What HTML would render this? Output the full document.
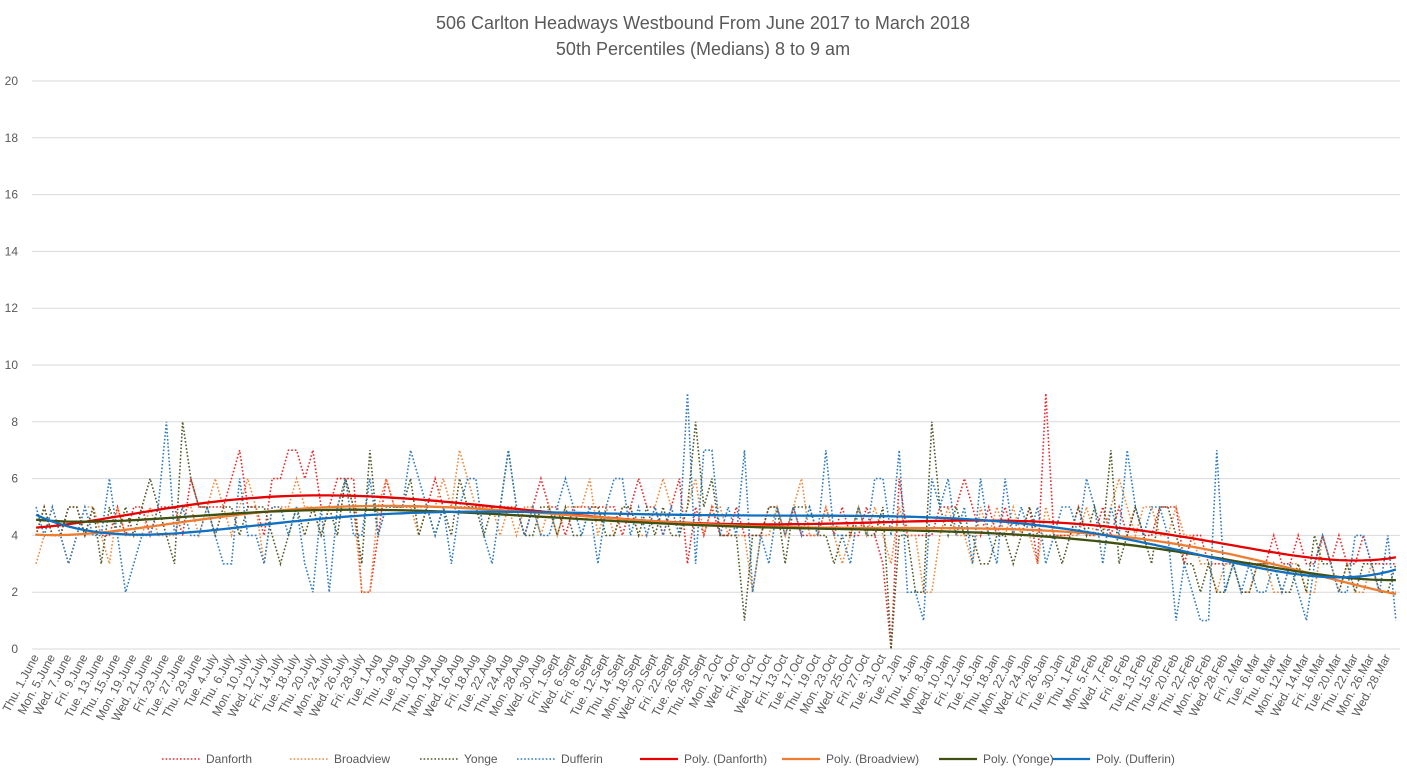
<!DOCTYPE html>
<html><head><meta charset="utf-8">
<style>
body{margin:0;background:#fff;font-family:"Liberation Sans",sans-serif;}
#wrap{position:relative;width:1407px;height:778px;overflow:hidden;}
</style></head>
<body>
<div id="wrap">
<svg id="chart" width="1407" height="778">
<text x="703" y="29" text-anchor="middle" font-size="18" fill="#595959">506 Carlton Headways Westbound From June 2017 to March 2018</text>
<text x="703" y="55" text-anchor="middle" font-size="18" fill="#595959">50th Percentiles (Medians) 8 to 9 am</text>
<g id="grid"></g><g id="yticks"></g><g id="xticks"></g><g id="series"></g><g id="trends"></g><g id="legend"></g>
</svg>
</div>
<script>
const months = {June:[2017,5],July:[2017,6],Aug:[2017,7],Sept:[2017,8],Oct:[2017,9],Nov:[2017,10],Jan:[2018,0],Feb:[2018,1],Mar:[2018,2]};
const categoryRanges = [["June",1,30],["July",1,31],["Aug",1,31],["Sept",1,30],["Oct",1,31],["Nov",1,1],["Jan",2,31],["Feb",1,28],["Mar",1,29]];
const holidays = ["July.3","Aug.7","Sept.4","Oct.9","Feb.19"];
const yTicks = [0,2,4,6,8,10,12,14,16,18,20];
const danforth = [4,5,4,4,5,5,4,5,4,4,5,4,5,5,4,5,5,5,4,6,5,
5,5,5,6,7,5,5,4,6,6,7,7,6,7,5,5,6,6,6,2,2,
4,6,5,5,5,5,5,6,5,5,5,5,5,5,5,5,5,5,4,5,6,
5,5,4,5,5,5,5,5,5,4,5,6,5,5,4,5,6,3,5,4,5,
4,4,5,4,4,4,5,5,4,5,4,4,4,5,4,5,4,4,5,4,3,
0,6,4,4,4,4,5,5,5,6,5,4,5,4,5,4,4,5,3,9,4,
4,4,5,4,4,5,4,5,4,5,4,4,5,5,5,3,4,4,3,3,3,
3,3,3,3,3,4,3,3,4,3,3,4,3,4,3,3,4,3,3,3,3];
const broadview = [3,4,5,4,3,4,5,5,4,3,5,4,4,4,5,4,4,4,5,5,4,
5,6,5,4,5,6,5,3,5,5,5,6,5,5,4,5,5,6,5,2,2,
5,6,5,5,5,4,5,5,6,5,7,6,5,5,5,4,5,4,5,5,4,
5,4,5,5,5,6,4,5,4,5,5,4,4,5,6,5,4,5,6,4,5,
5,4,4,4,2,4,4,5,4,5,6,4,4,5,4,3,4,5,4,5,4,
3,5,4,4,2,2,4,5,4,4,3,5,4,5,4,5,4,4,3,5,4,
4,4,4,5,4,4,5,6,5,4,5,5,4,4,5,4,4,3,3,2,3,
3,2,2,3,3,2,2,3,3,2,2,4,3,2,3,2,2,3,2,2,2];
const yonge = [4,5,4,4,5,5,4,5,3,5,4,5,4,5,6,5,4,3,8,6,5,
5,4,5,5,4,5,5,5,4,3,4,5,4,5,4,5,4,6,5,3,7,
4,5,5,5,6,4,5,4,5,4,6,5,5,4,5,5,7,5,4,4,5,
5,4,5,4,4,5,5,4,4,5,5,4,5,4,5,4,4,5,8,5,6,
4,4,4,1,4,4,5,5,3,5,5,5,4,4,3,4,4,5,4,4,5,
0,4,4,2,2,8,5,4,5,4,4,3,3,4,4,3,4,5,4,4,4,
3,4,5,4,5,4,7,3,4,5,4,3,5,5,4,3,3,2,3,2,2,
3,2,2,3,3,3,2,2,3,2,4,3,3,2,3,2,3,3,2,2,3];
const dufferin = [5,4,5,4,3,4,5,4,4,6,4,2,3,4,4,5,8,4,5,4,4,
5,4,3,3,6,4,4,3,5,5,4,5,3,2,5,2,5,6,4,4,6,
4,5,5,5,7,6,5,4,5,3,5,6,6,4,3,5,7,5,4,5,4,
4,5,6,5,4,5,3,5,6,6,4,5,4,5,4,5,4,9,3,7,7,
4,5,4,7,2,4,3,5,4,5,4,5,4,7,4,4,3,5,4,6,6,
4,7,2,2,1,6,5,6,4,5,3,6,4,3,6,4,5,4,5,3,4,
5,5,4,6,5,3,5,4,7,5,4,5,5,4,1,3,2,1,1,7,2,
3,2,3,2,2,3,2,3,2,1,3,4,3,2,2,4,4,3,2,4,1];
const seriesNames = ["Danforth","Broadview","Yonge","Dufferin"];
const seriesColors = ["#e8292b","#ee8a3c","#4c5a26","#2d7bbf"];
const trendColors = ["#e60000","#ed7d31","#3f5010","#1170c0"];

const dayNames=["Sun","Mon","Tue","Wed","Thu","Fri","Sat"];
const categories=[];
categoryRanges.forEach(([m,a,b])=>{for(let d=a;d<=b;d++){const dt=new Date(months[m][0],months[m][1],d);const w=dt.getDay();if(w===0||w===6)continue;if(holidays.includes(m+"."+d))continue;categories.push(dayNames[w]+". "+d+"."+m);}});

const NS="http://www.w3.org/2000/svg";
const L=32,R=1400,T=81,B=649;
const n=danforth.length;
const cw=(R-L)/n;
const xS=i=>L+(i+0.5)*cw;
const yS=v=>B-(v/20)*(B-T);
function mk(tag,attrs,parent){const e=document.createElementNS(NS,tag);for(const k in attrs)e.setAttribute(k,attrs[k]);parent.appendChild(e);return e;}

const grid=document.getElementById('grid'),yt=document.getElementById('yticks');
yTicks.forEach(v=>{
  const l=mk('line',{x1:L,x2:R,y1:yS(v),y2:yS(v),stroke:'#d9d9d9','stroke-width':1},grid);
  
  
  const t=mk('text',{x:18,y:yS(v)+4,'text-anchor':'end','font-size':12,fill:'#595959'},yt);
  t.textContent=v;
  
  
});
const xt=document.getElementById('xticks');
categories.forEach((c,i)=>{
  if(i%2!==0)return;
  const x=xS(i)+3,y=657;
  const t=mk('text',{x:x,y:y,'text-anchor':'end','font-size':12,fill:'#595959',transform:`rotate(-62 ${x} ${y})`},xt);
  t.textContent=c;
  
  
});
const all=[danforth,broadview,yonge,dufferin];
const sg=document.getElementById('series');
all.forEach((arr,s)=>{
  const d=arr.map((v,i)=>(i?'L':'M')+xS(i).toFixed(1)+' '+yS(v).toFixed(1)).join(' ');
  const p=mk('path',{d:d,fill:'none',stroke:seriesColors[s],'stroke-width':1.6,'stroke-dasharray':'1.6 2','stroke-linecap':'butt'},sg);
  
  
});
function polyfit(arr,deg){
  const N=arr.length,m=deg+1;const A=[];for(let r=0;r<m;r++){A.push(new Array(m+1).fill(0));}
  for(let i=0;i<N;i++){const x=2*i/(N-1)-1;const p=[];for(let k=0;k<m;k++)p.push(Math.pow(x,k));
    for(let r=0;r<m;r++){for(let c=0;c<m;c++)A[r][c]+=p[r]*p[c];A[r][m]+=p[r]*arr[i];}}
  for(let c=0;c<m;c++){let piv=c;for(let r=c+1;r<m;r++)if(Math.abs(A[r][c])>Math.abs(A[piv][c]))piv=r;[A[c],A[piv]]=[A[piv],A[c]];
    for(let r=0;r<m;r++){if(r===c)continue;const f=A[r][c]/A[c][c];for(let k=c;k<=m;k++)A[r][k]-=f*A[c][k];}}
  return A.map((row,r)=>row[m]/row[r]);
}
const tg=document.getElementById('trends');
all.forEach((arr,s)=>{
  const co=polyfit(arr,6);const N=arr.length;let d='';
  for(let i=0;i<N;i++){const x=2*i/(N-1)-1;let v=0;co.forEach((c,k)=>v+=c*Math.pow(x,k));d+=(i?'L':'M')+xS(i).toFixed(1)+' '+yS(v).toFixed(1)+' ';}
  const p=mk('path',{d:d,fill:'none',stroke:trendColors[s],'stroke-width':2.3},tg);
  
  
});
const lg=document.getElementById('legend');
const legendX=[162,290,420,517,640,782,939,1052];
for(let j=0;j<8;j++){
  const s=j%4,trend=j>=4;const x=legendX[j],y=759;
  const g=mk('g',{},lg);
  
  
  mk('line',trend?{x1:x,x2:x+38,y1:y,y2:y,stroke:trendColors[s],'stroke-width':2.3}:{x1:x,x2:x+38,y1:y,y2:y,stroke:seriesColors[s],'stroke-width':1.6,'stroke-dasharray':'1.6 2'},g);
  const t=mk('text',{x:x+44,y:y+4,'font-size':12,fill:'#595959'},g);
  t.textContent=trend?'Poly. ('+seriesNames[s]+')':seriesNames[s];
}
</script>
</body></html>
